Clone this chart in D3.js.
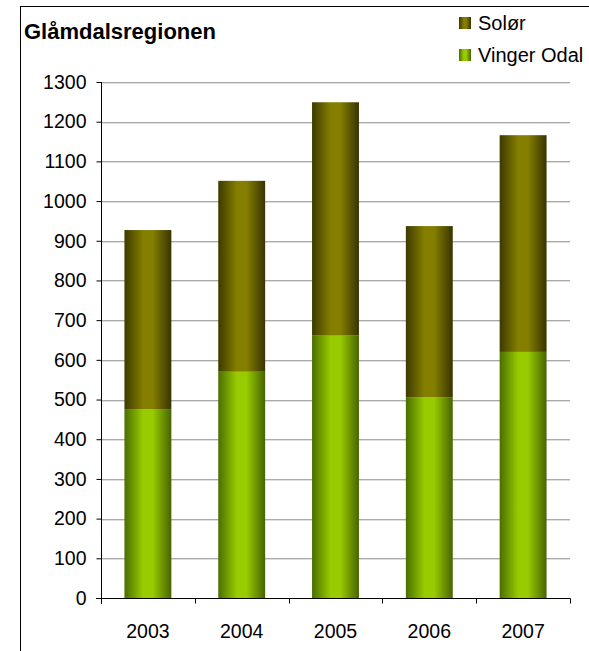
<!DOCTYPE html>
<html><head><meta charset="utf-8">
<script src="https://cdn.jsdelivr.net/npm/d3@7"></script>
<style>body{margin:0;background:#fff}svg{display:block}text{font-family:"Liberation Sans",Arial,sans-serif}</style>
</head><body>
<script>
const years = ["2003","2004","2005","2006","2007"];
const vingerOdal = [476, 570, 661, 506, 620];
const solor = [451, 481, 588, 431, 546];
const yTicks = [0,100,200,300,400,500,600,700,800,900,1000,1100,1200,1300];
const seriesNames = ["Vinger Odal","Solør"];

(function(){
const W = 589, H = 651;
const svg = d3.select("body").append("svg").attr("width", W).attr("height", H);
const defs = svg.append("defs");
function grad(id, edgeL, mid, edgeR){
  const g = defs.append("linearGradient").attr("id", id).attr("x1","0").attr("x2","1").attr("y1","0").attr("y2","0");
  g.append("stop").attr("offset","0%").attr("stop-color", edgeL);
  g.append("stop").attr("offset","40%").attr("stop-color", mid);
  g.append("stop").attr("offset","60%").attr("stop-color", mid);
  g.append("stop").attr("offset","100%").attr("stop-color", edgeR);
}
grad("gSolor", "#3d3a00", "#857f00", "#383400");
grad("gVinger", "#4a6e00", "#99cc00", "#476400");

// chart frame
svg.append("line").attr("x1",20.5).attr("x2",20.5).attr("y1",6.5).attr("y2",H).attr("stroke","#000");
svg.append("line").attr("x1",20).attr("x2",W).attr("y1",6.5).attr("y2",6.5).attr("stroke","#000");

const pLeft = 101, pRight = 570, pTop = 82, pBottom = 598;
const x = d3.scaleBand().domain(years).range([pLeft, pRight]).paddingInner(0.5).paddingOuter(0.25);
const y = d3.scaleLinear().domain([0,1300]).range([pBottom, pTop]);

// gridlines
const grid = svg.append("g");
yTicks.filter(t => t>0).forEach(t => {
  grid.append("line").attr("x1",pLeft).attr("x2",pRight).attr("y1",Math.round(y(t))+1.5).attr("y2",Math.round(y(t))+1.5).attr("stroke","#dedede");
  grid.append("line").attr("x1",pLeft).attr("x2",pRight).attr("y1",Math.round(y(t))+0.5).attr("y2",Math.round(y(t))+0.5).attr("stroke","#aaaaaa");
});

// stacked bars
const rows = years.map((yr,i) => ({year: yr, "Vinger Odal": vingerOdal[i], "Solør": solor[i]}));
const stack = d3.stack().keys(seriesNames)(rows);
const fills = {"Vinger Odal":"url(#gVinger)", "Solør":"url(#gSolor)"};
stack.forEach(s => {
  svg.append("g").selectAll("rect").data(s).join("rect")
    .attr("x", d => x(d.data.year))
    .attr("width", x.bandwidth())
    .attr("y", d => y(d[1]))
    .attr("height", d => y(d[0]) - y(d[1]))
    .attr("fill", fills[s.key]);
});

// y axis
const yAxis = svg.append("g").attr("transform",`translate(${pLeft+0.5},0)`)
  .call(d3.axisLeft(y).tickValues(yTicks).tickFormat(d3.format("d")).tickSize(5).tickPadding(10));
yAxis.attr("font-family", null);
yAxis.select(".domain").attr("d", `M0,${pTop}V${pBottom+6}`).attr("stroke","#000");
yAxis.selectAll(".tick line").attr("stroke","#000");
yAxis.selectAll("text").attr("font-size","19.5px").attr("fill","#000");

// x axis
const xAxis = svg.append("g").attr("transform",`translate(0,${pBottom+0.5})`);
xAxis.append("line").attr("x1",pLeft-5).attr("x2",pRight+0.5).attr("y1",0).attr("y2",0).attr("stroke","#000");
const bounds = d3.range(years.length+1).map(i => pLeft + i*(pRight-pLeft)/years.length);
xAxis.selectAll("line.tk").data(bounds.slice(1)).join("line").attr("class","tk")
  .attr("x1", d => Math.round(d)+0.5).attr("x2", d => Math.round(d)+0.5).attr("y1",0).attr("y2",5).attr("stroke","#000");
xAxis.selectAll("text").data(years).join("text")
  .attr("x", d => x(d) + x.bandwidth()/2).attr("y", 39)
  .attr("text-anchor","middle").attr("font-size","19.5px").attr("fill","#000").text(d => d);

// title
svg.append("text").attr("x",24).attr("y",39).attr("font-size","22px").attr("font-weight","bold").attr("fill","#000").text("Glåmdalsregionen");

// legend
const legend = [{name:"Solør", fill:"url(#gSolor)", y:17},{name:"Vinger Odal", fill:"url(#gVinger)", y:49}];
legend.forEach(l => {
  svg.append("rect").attr("x",459).attr("y",l.y).attr("width",12).attr("height",12).attr("fill",l.fill);
  svg.append("text").attr("x",478).attr("y",l.y+12.5).attr("font-size","20px").attr("fill","#000").text(l.name);
});
})();
</script>
</body></html>
